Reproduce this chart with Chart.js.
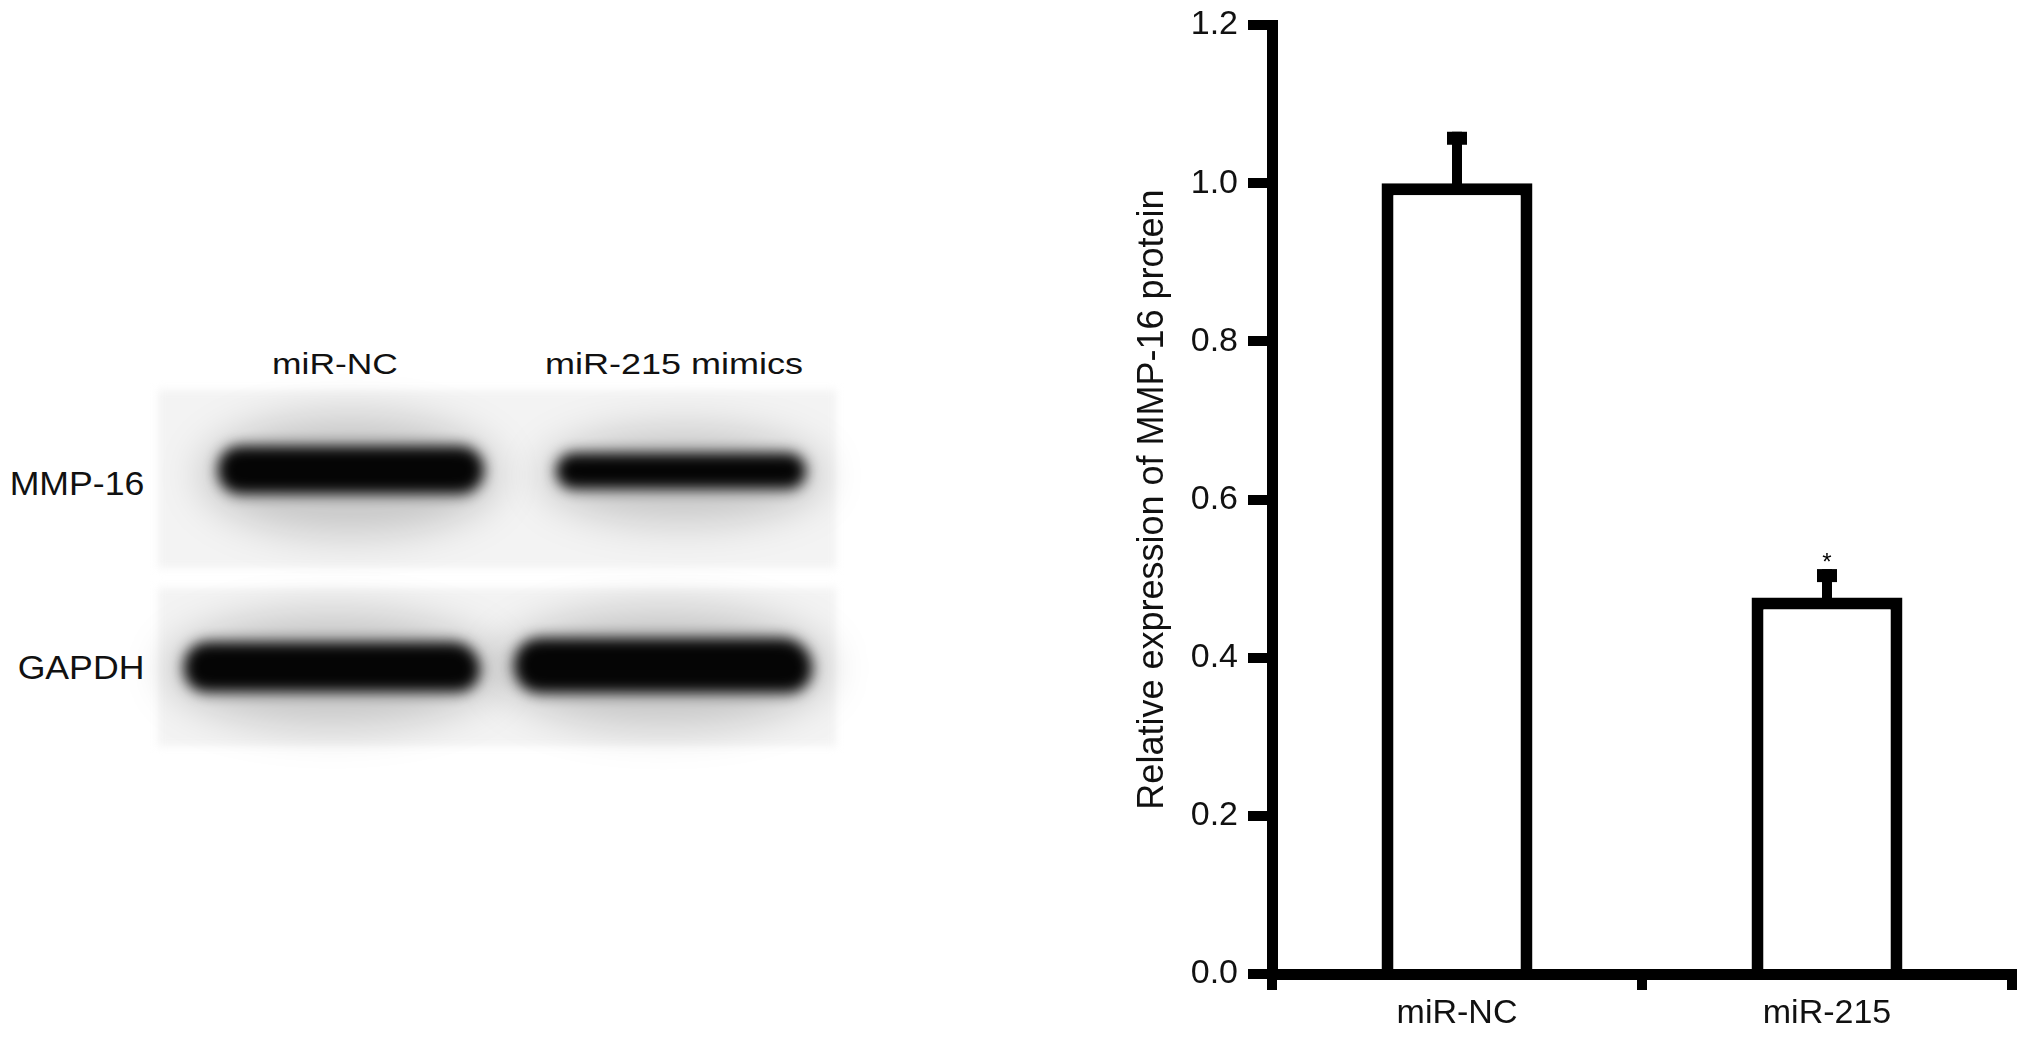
<!DOCTYPE html>
<html>
<head>
<meta charset="utf-8">
<script src="https://cdn.jsdelivr.net/npm/chart.js@4.4.1/dist/chart.umd.min.js"></script>
<style>
  html, body { margin:0; padding:0; background:#fff; }
  body { width:2031px; height:1039px; position:relative; overflow:hidden; font-family:'Liberation Sans', Arial, sans-serif; color:#111; }
  .lbl { position:absolute; line-height:1; white-space:nowrap; }
  .panel { position:absolute; background:#f3f3f3; filter:blur(4px); }
  .halo { position:absolute; background:rgba(0,0,0,.18); border-radius:50%; filter:blur(20px); }
  .band { position:absolute; background:#050505; filter:blur(7px); }
  #chartBox { position:absolute; left:1080px; top:0; width:951px; height:1039px; }
</style>
</head>
<body>

<!-- western blot panel (picture, not data) -->
<div class="panel" style="left:158px;top:390px;width:678px;height:178px"></div>
<div class="panel" style="left:158px;top:588px;width:678px;height:158px"></div>

<div class="halo" style="left:200px;top:415px;width:300px;height:120px"></div>
<div class="halo" style="left:540px;top:428px;width:285px;height:95px"></div>
<div class="halo" style="left:165px;top:612px;width:335px;height:115px"></div>
<div class="halo" style="left:496px;top:608px;width:335px;height:120px"></div>

<div class="band" style="left:218px;top:446px;width:266px;height:48px;border-radius:24px 26px 26px 24px"></div>
<div class="band" style="left:556px;top:453px;width:250px;height:36px;border-radius:18px"></div>
<div class="band" style="left:184px;top:642px;width:296px;height:50px;border-radius:26px 30px 24px 24px"></div>
<div class="band" style="left:514px;top:638px;width:298px;height:55px;border-radius:26px 30px 24px 26px"></div>

<div class="lbl" style="left:335px;top:364px;font-size:30px;transform:translate(-50%,-50%) scaleX(1.18)">miR-NC</div>
<div class="lbl" style="left:674px;top:364px;font-size:30px;transform:translate(-50%,-50%) scaleX(1.2)">miR-215 mimics</div>
<div class="lbl" style="left:77px;top:483px;font-size:33px;transform:translate(-50%,-50%) scaleX(1.08)">MMP-16</div>
<div class="lbl" style="left:81px;top:667px;font-size:33px;transform:translate(-50%,-50%) scaleX(1.08)">GAPDH</div>

<div id="chartBox"><canvas id="bar"></canvas></div>

<script>
const groups = ['miR-NC', 'miR-215'];
const means  = [1.0, 0.476];
const sem    = [0.065, 0.036];
const marks  = ['', '*'];
const yTicks = [0, 0.2, 0.4, 0.6, 0.8, 1.0, 1.2];

// SEM bars + significance mark, placed through the y scale
const errorBars = {
  id: 'errorBars',
  afterDatasetsDraw(chart) {
    const ctx = chart.ctx;
    const y = chart.scales.y;
    const meta = chart.getDatasetMeta(0);
    ctx.save();
    ctx.fillStyle = '#000';
    meta.data.forEach((bar, i) => {
      const top = y.getPixelForValue(means[i] + sem[i]);
      ctx.fillRect(bar.x - 5, top, 10, bar.y - top + 6);
      ctx.fillRect(bar.x - 10, top, 20, 13);
      if (marks[i]) {
        ctx.font = '24px "Liberation Sans", Arial';
        ctx.textAlign = 'center';
        ctx.textBaseline = 'alphabetic';
        ctx.fillText(marks[i], bar.x, top + 1);
      }
    });
    ctx.restore();
  }
};

new Chart(document.getElementById('bar'), {
  type: 'bar',
  data: {
    labels: groups,
    datasets: [{
      data: means,
      backgroundColor: '#fff',
      borderColor: '#000',
      borderWidth: 12,
      borderSkipped: 'start',
      barPercentage: 0.408,
      categoryPercentage: 1
    }]
  },
  options: {
    responsive: true, maintainAspectRatio: false,
    animation: false,
    layout: { padding: { top: 25, right: 19, left: 0, bottom: 0 } },
    plugins: { legend: { display: false }, tooltip: { enabled: false } },
    scales: {
      x: {
        z: 1,
        afterFit: s => { s.height = 65; },
        border: { display: true, color: '#000', width: 11 },
        grid: { drawOnChartArea: false, drawTicks: true, tickLength: 16, lineWidth: 10, color: '#000', offset: true },
        ticks: { color: '#111', padding: 3, font: { family: 'Liberation Sans', size: 34 } }
      },
      y: {
        z: 1,
        min: 0, max: 1.2,
        afterFit: s => { s.width = 192; s.paddingTop = 0; s.paddingBottom = 0; },
        afterBuildTicks: s => { s.ticks = yTicks.map(v => ({ value: v })); },
        border: { display: true, color: '#000', width: 11 },
        grid: { drawOnChartArea: false, drawTicks: true, tickLength: 24, lineWidth: 10, color: '#000' },
        ticks: { color: '#111', padding: 10, font: { family: 'Liberation Sans', size: 34 },
                 callback: v => v.toFixed(1) },
        title: { display: true, text: 'Relative expression of MMP-16 protein', color: '#111',
                 font: { family: 'Liberation Sans', size: 36 }, padding: { top: 51, bottom: 0 } }
      }
    }
  },
  plugins: [errorBars]
});
</script>
</body>
</html>
